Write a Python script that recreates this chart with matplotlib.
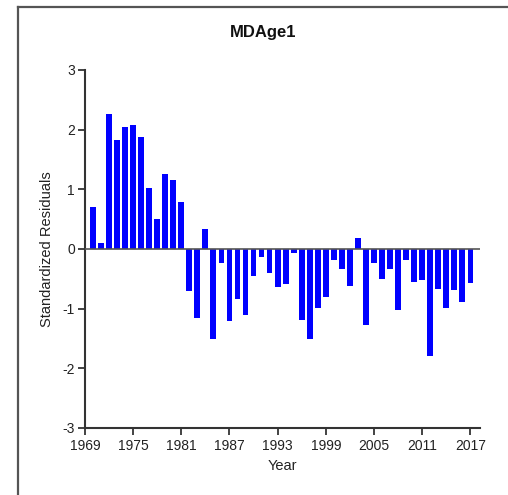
import matplotlib
matplotlib.use("Agg")
import matplotlib.pyplot as plt
from matplotlib.lines import Line2D

plt.rcParams['font.family'] = ['Liberation Sans', 'DejaVu Sans']
plt.rcParams['axes.unicode_minus'] = False

years = list(range(1970, 2018))
residuals = [0.70, 0.10, 2.26, 1.82, 2.05, 2.08, 1.88, 1.02, 0.50, 1.25,
             1.16, 0.78, -0.71, -1.16, 0.33, -1.51, -0.24, -1.20, -0.83, -1.11,
             -0.45, -0.13, -0.41, -0.64, -0.59, -0.07, -1.19, -1.51, -0.99, -0.81,
             -0.19, -0.33, -0.62, 0.19, -1.27, -0.24, -0.50, -0.33, -1.03, -0.19,
             -0.55, -0.52, -1.79, -0.67, -0.99, -0.69, -0.89, -0.57]
xticks = [1969, 1975, 1981, 1987, 1993, 1999, 2005, 2011, 2017]
yticks = [-3, -2, -1, 0, 1, 2, 3]

fig = plt.figure(figsize=(5.08, 4.95), dpi=100)
ax = fig.add_axes([0.167, 0.1354, 0.778, 0.7232])

ax.bar(years, residuals, width=0.72, color='#0000ff')
ax.axhline(0, color='#555555', lw=1.2, zorder=3)

ax.set_xlim(1969, 2018.2)
ax.set_ylim(-3, 3)
ax.set_xticks(xticks)
ax.set_yticks(yticks)
ax.tick_params(axis='both', labelsize=10, colors='#222222', length=5, width=1.2)
ax.tick_params(axis='x', pad=3)
ax.tick_params(axis='y', pad=2)

for side in ['top', 'right']:
    ax.spines[side].set_visible(False)
for side in ['left', 'bottom']:
    ax.spines[side].set_color('#333333')
    ax.spines[side].set_linewidth(1.5)

ax.set_xlabel("Year", fontsize=10.5, color='#222222', labelpad=4)
ax.set_ylabel("Standardized Residuals", fontsize=10.5, color='#222222', labelpad=6)

fig.text(263 / 508, 1 - 33 / 495, "MDAge1", fontsize=12, fontweight='bold',
         ha='center', va='center', color='#111111')

# border of the original panel (only left and top edges are visible)
fig.add_artist(Line2D([18 / 508, 18 / 508], [0, 1 - 7 / 495], transform=fig.transFigure,
                      color='#555555', lw=1.6))
fig.add_artist(Line2D([18 / 508, 1], [1 - 7 / 495, 1 - 7 / 495], transform=fig.transFigure,
                      color='#555555', lw=1.6))

fig.savefig("out.png", dpi=100)
